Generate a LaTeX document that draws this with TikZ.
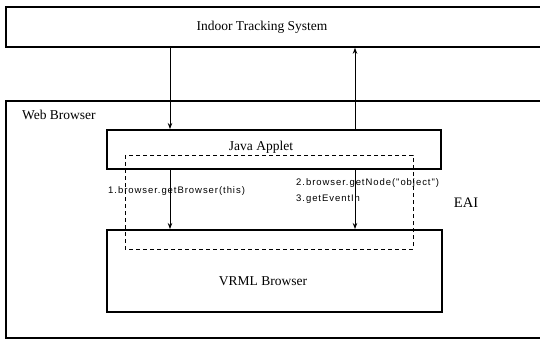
\documentclass[tikz,border=0pt]{standalone}
\usepackage{fontspec}
\setmainfont{Liberation Serif}
\newfontfamily\callfont[LetterSpace=10]{Liberation Sans}
\usetikzlibrary{arrows.meta}

\tikzset{
  box/.style={draw=black, line width=1.8pt, inner sep=0pt},
  title/.style={font=\fontsize{13.5}{15}\selectfont, inner sep=0pt},
  call/.style={font=\callfont\fontsize{9.5}{11}\selectfont, inner sep=0pt, anchor=west},
  flow/.style={draw=black, line width=0.8pt, -{Stealth[length=6pt,width=4.5pt]}},
  eai/.style={draw=black, line width=0.9pt, dash pattern=on 4pt off 3pt}
}

\begin{document}
\begin{tikzpicture}[x=1pt, y=-1pt]
  \useasboundingbox (0,0) rectangle (540,339);
  \clip (0,0) rectangle (540,339);

  % outer frames (both run past the right edge)
  \node[box, minimum width=545pt, minimum height=40pt, anchor=north west] (its) at (5,6) {};
  \node[box, minimum width=545pt, minimum height=237pt, anchor=north west] (web) at (5,100) {};

  % inner boxes
  \node[box, minimum width=334pt, minimum height=39pt, anchor=north west] (java) at (106,129) {};
  \node[box, minimum width=335pt, minimum height=82pt, anchor=north west] (vrml) at (106,229) {};

  % EAI region
  \draw[eai] (125,155) rectangle (413,249);

  % box titles
  \node[title] (itsT) at (262,27) {Indoor Tracking System};
  \node[title, anchor=west] (webT) at (22,115) {Web Browser};
  \node[title] (javaT) at (261,147) {Java Applet};
  \node[title] (vrmlT) at (263,281) {VRML Browser};
  \node[title, font=\fontsize{14.5}{16}\selectfont] (eaiT) at (466,203) {EAI};

  % call labels
  \node[call] (c1) at (108,191) {1.browser.getBrowser(this)};
  \node[call] (c2) at (296,183) {2.browser.getNode("object")};
  \node[call] (c3) at (296,199) {3.getEventIn};

  % connector columns
  \coordinate (xl) at (170,0);
  \coordinate (xr) at (355,0);

  \draw[flow] (xl |- its.south) -- (xl |- java.north);
  \draw[flow] (xr |- java.north) -- (xr |- its.south);
  \draw[flow] (xl |- java.south) -- (xl |- vrml.north);
  \draw[flow] (xr |- java.south) -- (xr |- vrml.north);
\end{tikzpicture}
\end{document}
